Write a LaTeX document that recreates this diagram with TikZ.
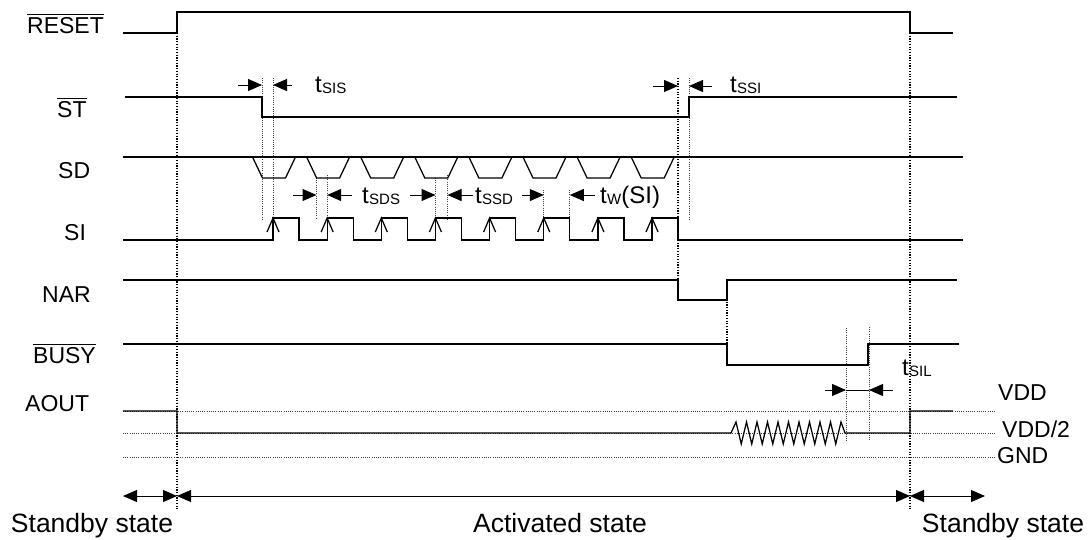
\documentclass[tikz,border=0pt]{standalone}
\usepackage{fontspec}
\setmainfont{Liberation Sans}
\usetikzlibrary{arrows.meta}
\newcommand\ovl[1]{\vbox{\hrule height 1.1pt\kern 2.2pt\hbox{#1}}}
\newcommand\tsub[1]{t\kern0.3pt\raisebox{-1.5pt}{\fontsize{15}{16}\selectfont #1}}
\begin{document}
\begin{tikzpicture}[x=1pt,y=-1pt,
  wave/.style={line width=1.25pt, line join=miter},
  dotv/.style={line width=0.8pt, dash pattern=on 0.8pt off 1.4pt, black!75},
  dotb/.style={line width=1.3pt, dash pattern=on 1.2pt off 1.5pt},
  tarr/.style={line width=1pt, -{Triangle[length=14pt,width=12pt]}},
  darr/.style={line width=1pt, {Triangle[length=14pt,width=12pt]}-{Triangle[length=14pt,width=12pt]}},
  lbl/.style={anchor=base west, inner sep=0pt, font=\fontsize{23}{26}\selectfont},
  tl/.style={anchor=base west, inner sep=0pt, font=\fontsize{24}{26}\selectfont},
  big/.style={anchor=base, inner sep=0pt, font=\fontsize{26.5}{30}\selectfont}]
\useasboundingbox (0,0) rectangle (1090,539);
% dotted guides
\draw[dotb] (177,33) -- (177,510);
\draw[dotb] (910,33) -- (910,510);
\draw[dotv] (262,78) -- (262,220);
\draw[dotv] (273,78) -- (273,218);
\draw[dotv] (316.5,178) -- (316.5,218);
\draw[dotv] (327.2,175) -- (327.2,218);
\draw[dotv] (435.5,178) -- (435.5,220);
\draw[dotv] (447.5,175) -- (447.5,220);
\draw[dotv] (543.8,190) -- (543.8,220);
\draw[dotv] (569.8,190) -- (569.8,234);
\draw[dotb] (678,78) -- (678,300);
\draw[dotv] (689,78) -- (689,220);
\draw[dotb] (727,280) -- (727,365);
\draw[dotv] (846,328) -- (846,442);
\draw[dotv] (869,327) -- (869,440);
\draw[dotv] (123,411) -- (995,411);
\draw[dotv] (123,433) -- (995,433);
\draw[dotv] (123,457) -- (995,457);
% waveforms
\draw[wave] (123,33) -- (177,33) -- (177,12) -- (910,12) -- (910,33) -- (953,33);
\draw[wave] (125,97) -- (262,97) -- (262,117) -- (689,117) -- (689,97) -- (957,97);
\draw[wave] (123,157) -- (963,157);
\foreach \k in {0,...,7} \draw[wave] ({252.5+54.1*\k},157) -- ({262.5+54.1*\k},178) -- ({285.5+54.1*\k},178) -- ({295.5+54.1*\k},157);
\draw[wave] (123,240) \foreach \k in {0,...,7} { -- ({273+54.15*\k},240) -- ({273+54.15*\k},218) -- ({299+54.15*\k},218) -- ({299+54.15*\k},240) } -- (963,240);
\foreach \k in {0,...,7} \draw[wave] ({267+54.15*\k},232) -- ({273+54.15*\k},218) -- ({279+54.15*\k},232);
\draw[wave] (123,280) -- (678,280) -- (678,300) -- (727,300) -- (727,280) -- (957,280);
\draw[wave] (123,344) -- (727,344) -- (727,365) -- (868,365) -- (868,344) -- (959,344);
\draw[wave] (123,411) -- (177,411) -- (177,433) -- (731,433)
  \foreach \k in {0,...,9} { -- ({736+10.5*\k},422) -- ({741.25+10.5*\k},444) } -- (841,422) -- (845,433) -- (910,433) -- (910,411) -- (953,411);
% timing arrows
\draw[tarr] (238,85) -- (262,85);
\draw[tarr] (292,85) -- (273,85);
\draw[tarr] (653,86) -- (678,86);
\draw[tarr] (712,86) -- (689,86);
\draw[tarr] (293,195) -- (316.5,195);
\draw[tarr] (352,195) -- (327.2,195);
\draw[tarr] (410,195) -- (435.5,195);
\draw[tarr] (473,195) -- (447.5,195);
\draw[tarr] (522,195) -- (543.8,195);
\draw[tarr] (595,195) -- (569.8,195);
\draw[line width=0.8pt] (846,390) -- (869,390);
\draw[tarr] (825,390) -- (846,390);
\draw[tarr] (893,390) -- (869,390);
\draw[darr] (123,496) -- (177,496);
\draw[darr] (177,496) -- (910,496);
\draw[darr] (910,496) -- (985,496);
% labels
\node[lbl] (lreset) at (27,33) {\ovl{RESET}};
\node[lbl] (lst) at (57,117) {\ovl{ST}};
\node[lbl] (lsd) at (58,178) {SD};
\node[lbl] (lsi) at (64,240) {SI};
\node[lbl] (lnar) at (42,302) {NAR};
\node[lbl] (lbusy) at (33,363) {\ovl{BUSY}};
\node[lbl] (laout) at (25,411) {AOUT};
\node[lbl] (lvdd) at (998,400) {VDD};
\node[lbl] (lvdd2) at (1002,437) {VDD/2};
\node[lbl] (lgnd) at (997,463) {GND};
\node[tl] (tsis) at (315,92) {\tsub{SIS}};
\node[tl] (tssi) at (730,92) {\tsub{SSI}};
\node[tl] (tsds) at (362,203) {\tsub{SDS}};
\node[tl] (tssd) at (475,203) {\tsub{SSD}};
\node[tl] (tw) at (600,203) {\tsub{W}(SI)};
\node[tl] (tsil) at (902,375) {\tsub{SIL}};
\node[big] (sb1) at (92,532) {Standby state};
\node[big] (act) at (560,532) {Activated state};
\node[big] (sb2) at (1003,532) {Standby state};
\end{tikzpicture}
\end{document}
